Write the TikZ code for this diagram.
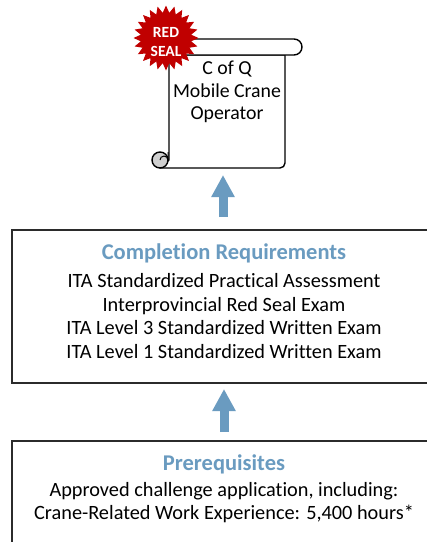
\documentclass[tikz,border=0pt]{standalone}
\usepackage{fontspec}
\setmainfont{Carlito}[Ligatures=CommonOff]
\usetikzlibrary{shapes.geometric,arrows.meta}
\definecolor{sealred}{HTML}{C00000}
\definecolor{accblue}{HTML}{6A9BC0}
\definecolor{edgegray}{HTML}{2B2B2B}
\definecolor{curlgray}{HTML}{D0D0D0}
\tikzset{
  panel/.style={draw=edgegray, line width=1.4pt, fill=white, rectangle, minimum width=424pt, inner sep=0pt},
  headtext/.style={text=accblue, font=\fontsize{22.5}{26}\selectfont\bfseries, inner sep=0pt},
  listtext/.style={text=black, font=\fontsize{20.3}{23.5}\selectfont, align=center, inner sep=0pt},
  scrolltext/.style={text=black, font=\fontsize{19.8}{22.5}\selectfont, align=center, inner sep=0pt},
  sealtext/.style={text=white, font=\fontsize{15.5}{19.5}\selectfont\bfseries, align=center, inner sep=0pt},
  uparrow/.style={draw=accblue, line width=9pt, -{Triangle[width=22pt,length=22pt]}},
  scrollline/.style={draw=black, line width=1.4pt, line join=round}
}
\begin{document}
\begin{tikzpicture}[x=1pt, y=-1pt]
\useasboundingbox (0,0) rectangle (427,542);
\clip (0,0) rectangle (427,542);
% scroll
\filldraw[scrollline, fill=white] (169,55) -- (169,160) -- (160,168) -- (280,168)
   arc[start angle=90, end angle=0, radius=5] -- (285,55) -- cycle;
\filldraw[scrollline, fill=white] (180,39) -- (294,39) arc[start angle=-90, end angle=90, radius=8] -- (180,55) -- cycle;
\filldraw[scrollline, fill=curlgray] (160,160) circle[radius=8];
\draw[scrollline, line width=1pt] (160,160) arc[start angle=180, end angle=360, radius=4] -- (168,152);
\node[scrolltext] (cert) at (227,92) {C of Q\\Mobile Crane\\Operator};
% seal
\node[star, star points=24, star point ratio=1.28, minimum size=65pt, fill=sealred, inner sep=0pt] (seal) at (166,38) {};
\node[sealtext] (sealtxt) at (166,42) {RED\\SEAL};
% completion box
\node[panel, minimum height=153pt] (comp) at (224,306.5) {};
\node[headtext] (comptitle) at (224,253.5) {Completion Requirements};
\node[listtext] (complist) at (224,316) {ITA Standardized Practical Assessment\\Interprovincial Red Seal Exam\\ITA Level 3 Standardized Written Exam\\ITA Level 1 Standardized Written Exam};
% prerequisites box
\node[panel, minimum height=140pt] (prereq) at (224,511) {};
\node[headtext] (pretitle) at (224,464.5) {Prerequisites};
\node[listtext] (prelist) at (224,502.5) {Approved challenge application, including:\\Crane-Related Work Experience: 5,400 hours*};
% arrows
\coordinate (a1s) at (223,217);
\coordinate (a1e) at (223,175);
\coordinate (a2s) at (224,432);
\coordinate (a2e) at (224,389);
\draw[uparrow] (a1s) -- (a1e);
\draw[uparrow] (a2s) -- (a2e);
\end{tikzpicture}
\end{document}
